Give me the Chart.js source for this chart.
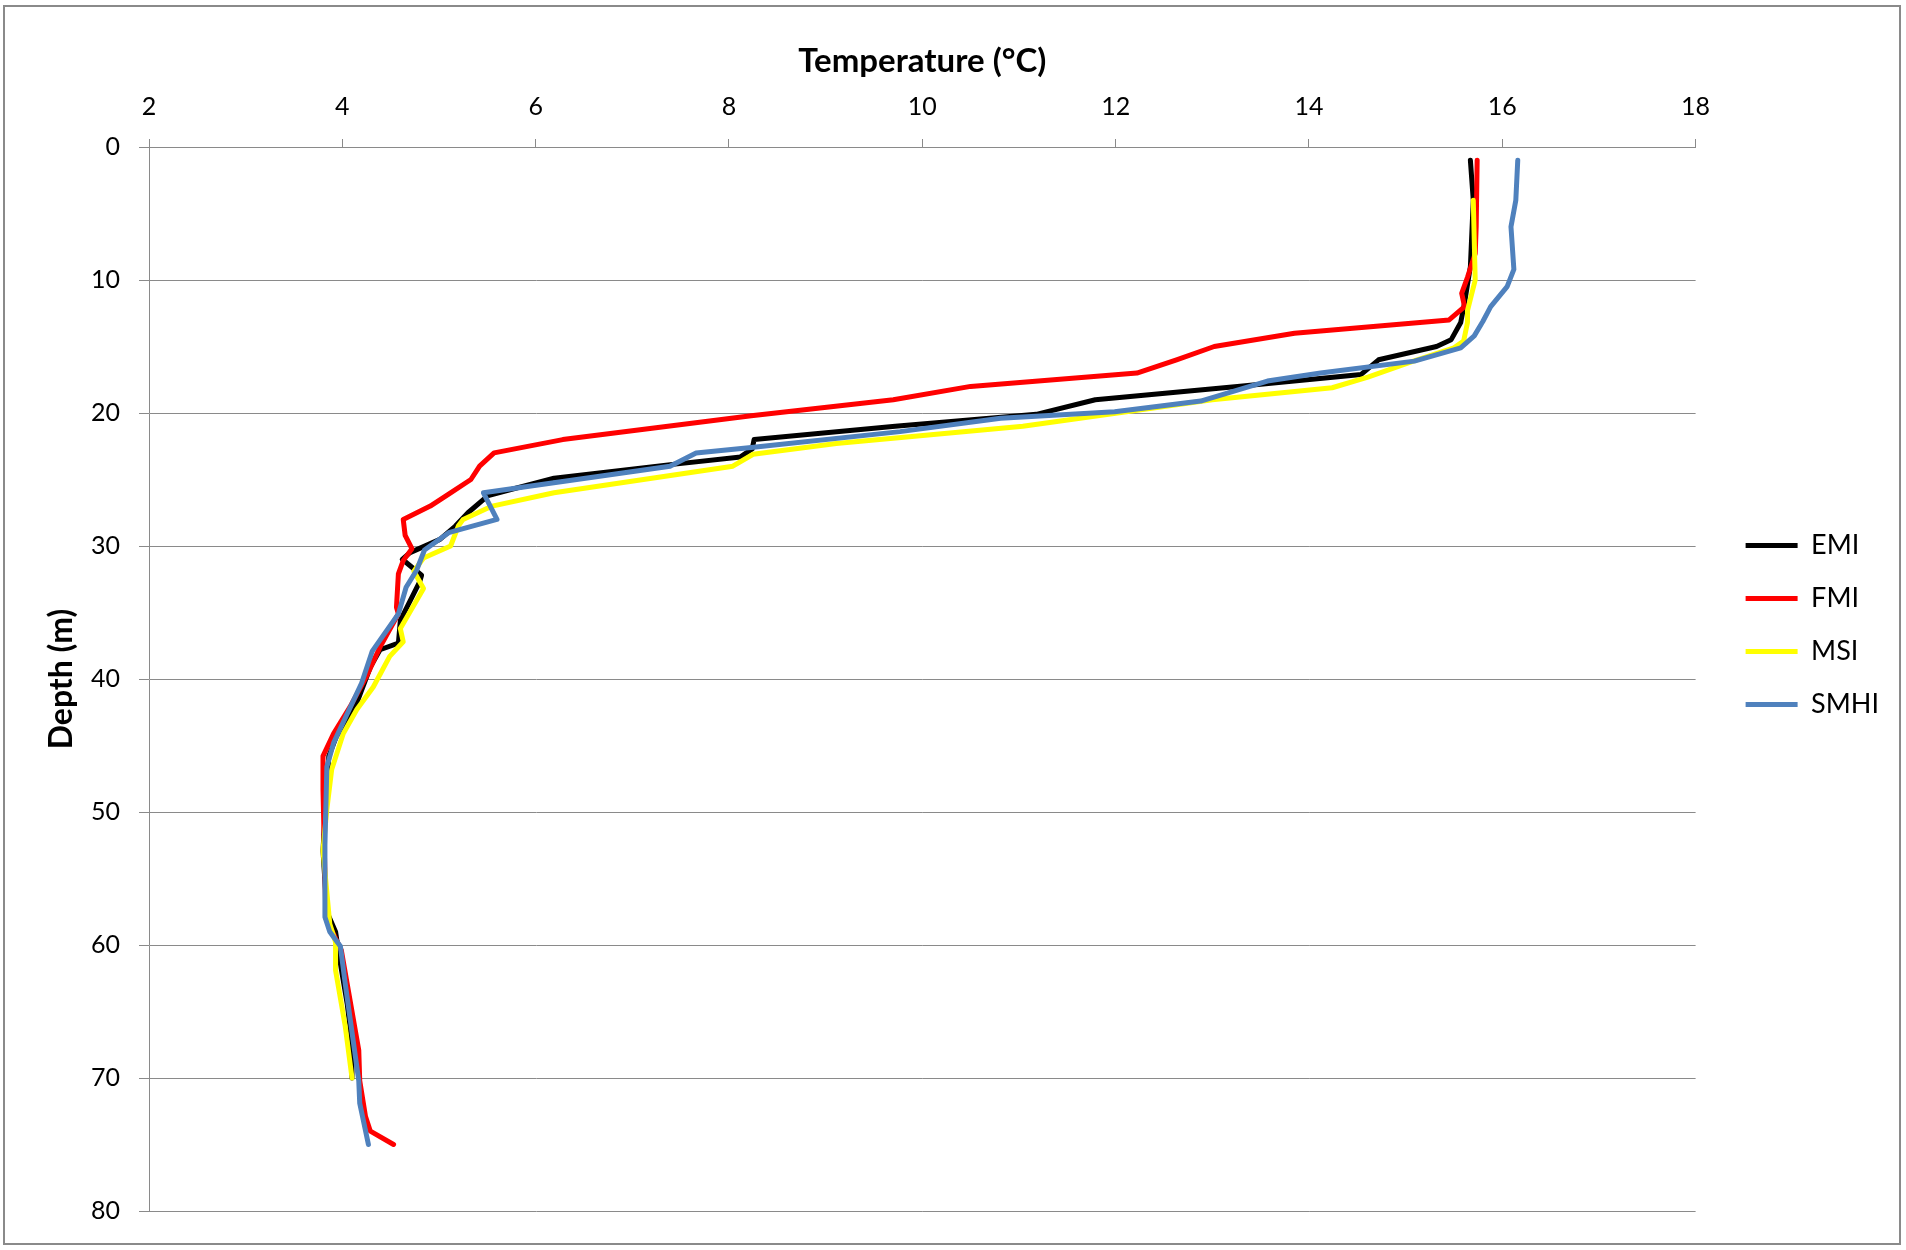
<!DOCTYPE html>
<html>
<head>
<meta charset="utf-8">
<title>Temperature profiles</title>
<script src="https://cdn.jsdelivr.net/npm/chart.js@4/dist/chart.umd.min.js"></script>
<style>
  body { margin: 0; background: #fff; }
  #frame {
    position: absolute; left: 3px; top: 5px;
    width: 1894px; height: 1236px;
    border: 2px solid #8a8a8a;
  }
  #chart { position: absolute; left: 0; top: 0; }
</style>
</head>
<body>
<div id="frame"></div>
<canvas id="chart" width="1906" height="1250"></canvas>
<script>
// depth (m) / temperature (°C)
const emiDepth = [1, 4, 9, 11.7, 13.2, 14.5, 15, 16, 17.1, 18, 19, 20.1, 21, 22, 22.7, 23.3, 23.9, 24.9, 26.2, 27.5, 28.5, 29.5, 30.5, 31, 32.2, 32.7, 35.6, 37.3, 37.8, 39.1, 41.8, 44.3, 45.8, 50.3, 52.9, 57.5, 59, 61.4, 64.4, 67.4, 70];
const emiTemp  = [15.67, 15.70, 15.67, 15.61, 15.57, 15.47, 15.32, 14.72, 14.54, 13.26, 11.79, 11.18, 9.72, 8.26, 8.24, 8.12, 7.37, 6.19, 5.51, 5.30, 5.17, 5.01, 4.70, 4.62, 4.82, 4.80, 4.60, 4.58, 4.39, 4.29, 4.15, 3.94, 3.86, 3.82, 3.80, 3.84, 3.93, 3.98, 4.05, 4.10, 4.10];

const fmiDepth = [1, 6, 8, 9.8, 11, 12, 13, 14, 15, 16, 17, 18, 19, 20.2, 22, 23, 24, 25, 26, 27, 28, 29.2, 30.2, 31.1, 32.1, 34.6, 35.1, 37.6, 39.8, 42.1, 44.1, 45.8, 48.3, 58, 60.4, 62.9, 67.9, 70.2, 72.9, 74, 75];
const fmiTemp  = [15.74, 15.73, 15.72, 15.64, 15.58, 15.61, 15.45, 13.85, 13.02, 12.63, 12.22, 10.50, 9.70, 8.23, 6.28, 5.57, 5.42, 5.33, 5.12, 4.91, 4.63, 4.65, 4.72, 4.63, 4.58, 4.56, 4.58, 4.39, 4.25, 4.08, 3.91, 3.80, 3.80, 3.83, 3.99, 4.05, 4.17, 4.18, 4.24, 4.29, 4.53];

const msiDepth = [4, 10, 12.3, 13.2, 14.6, 15.1, 16.1, 17.3, 18.1, 19, 21, 22.3, 23.1, 24, 26, 27, 28, 28.5, 30, 30.9, 31.9, 33.2, 36.2, 37.2, 38.3, 40.6, 42.3, 44.1, 46.8, 49.8, 52.9, 58.4, 59.8, 61.9, 66.1, 70];
const msiTemp  = [15.70, 15.72, 15.64, 15.64, 15.60, 15.50, 15.08, 14.61, 14.24, 13.00, 11.04, 9.11, 8.25, 8.04, 6.19, 5.55, 5.25, 5.20, 5.12, 4.84, 4.74, 4.84, 4.60, 4.63, 4.49, 4.32, 4.15, 4.01, 3.89, 3.84, 3.80, 3.87, 3.93, 3.93, 4.03, 4.10];

const smhiDepth = [1, 4, 6, 9.2, 10.5, 12, 13.1, 14.2, 15.1, 16.1, 17, 17.6, 19.1, 19.9, 20.4, 21.4, 22.6, 23, 24, 26, 28, 29, 30.3, 31.8, 33.1, 35.1, 37.9, 40.3, 44.8, 46.6, 52.5, 57.9, 59, 60.1, 62.9, 70.2, 71.9, 75];
const smhiTemp  = [16.16, 16.14, 16.09, 16.12, 16.05, 15.88, 15.80, 15.71, 15.57, 15.09, 14.12, 13.57, 12.88, 11.99, 10.81, 9.77, 8.23, 7.66, 7.39, 5.46, 5.60, 5.10, 4.85, 4.77, 4.66, 4.58, 4.31, 4.20, 3.91, 3.84, 3.82, 3.82, 3.87, 3.98, 4.03, 4.17, 4.18, 4.27];

const seriesNames  = ['EMI', 'FMI', 'MSI', 'SMHI'];
const seriesColors = ['#000000', '#ff0000', '#ffff00', '#4f81bd'];

function profile(depth, temp) {
  return depth.map((d, i) => ({ x: temp[i], y: d }));
}

const profiles = [
  profile(emiDepth, emiTemp),
  profile(fmiDepth, fmiTemp),
  profile(msiDepth, msiTemp),
  profile(smhiDepth, smhiTemp)
];

Chart.defaults.font.family = 'Lato, "Open Sans", sans-serif';
Chart.defaults.color = '#000';

// the legend sits a bit further from the plot than Chart.js puts it
const legendGap = {
  id: 'legendGap',
  afterLayout(chart) {
    chart.legend.left += 24;
    chart.legend.right += 24;
  }
};

const ctx = document.getElementById('chart').getContext('2d');

new Chart(ctx, {
  type: 'scatter',
  data: {
    datasets: profiles.map((data, i) => ({
      label: seriesNames[i],
      data: data,
      showLine: true,
      borderColor: seriesColors[i],
      backgroundColor: seriesColors[i],
      borderWidth: 5,
      borderJoinStyle: 'round',
      borderCapStyle: 'round',
      pointRadius: 0,
      pointHoverRadius: 0,
      tension: 0,
      order: profiles.length - i   // later series drawn on top, like Excel
    }))
  },
  options: {
    responsive: false,
    animation: false,
    layout: { padding: { top: 39, bottom: 39, left: 20, right: 41 } },
    scales: {
      x: {
        type: 'linear',
        position: 'top',
        min: 2,
        max: 18,
        ticks: { stepSize: 2, padding: 17, font: { size: 25 } },
        grid: { drawOnChartArea: false, drawTicks: true, tickLength: 8, color: '#8a8a8a' },
        border: { display: true, color: '#8a8a8a', width: 1 },
        title: {
          display: true,
          text: 'Temperature (°C)',
          font: { size: 33, weight: 'bold' },
          padding: { top: 3, bottom: 0 }
        },
        afterFit(scale) { scale.height = 108; }
      },
      y: {
        type: 'linear',
        reverse: true,
        min: 0,
        max: 80,
        ticks: { stepSize: 10, padding: 19, font: { size: 25 } },
        grid: { color: '#8a8a8a', lineWidth: 1, drawTicks: true, tickLength: 10 },
        border: { display: true, color: '#8a8a8a', width: 1 },
        title: {
          display: true,
          text: 'Depth (m)',
          font: { size: 32, weight: 'bold' },
          padding: { top: 22, bottom: 0 }
        },
        afterFit(scale) { scale.width = 129; }
      }
    },
    plugins: {
      legend: {
        position: 'right',
        maxWidth: 170,
        labels: {
          usePointStyle: true,
          pointStyle: 'line',
          pointStyleWidth: 52,
          padding: 26,
          font: { size: 27 },
          sort: (a, b) => a.datasetIndex - b.datasetIndex
        }
      },
      tooltip: { enabled: false }
    }
  },
  plugins: [legendGap]
});
</script>
</body>
</html>
